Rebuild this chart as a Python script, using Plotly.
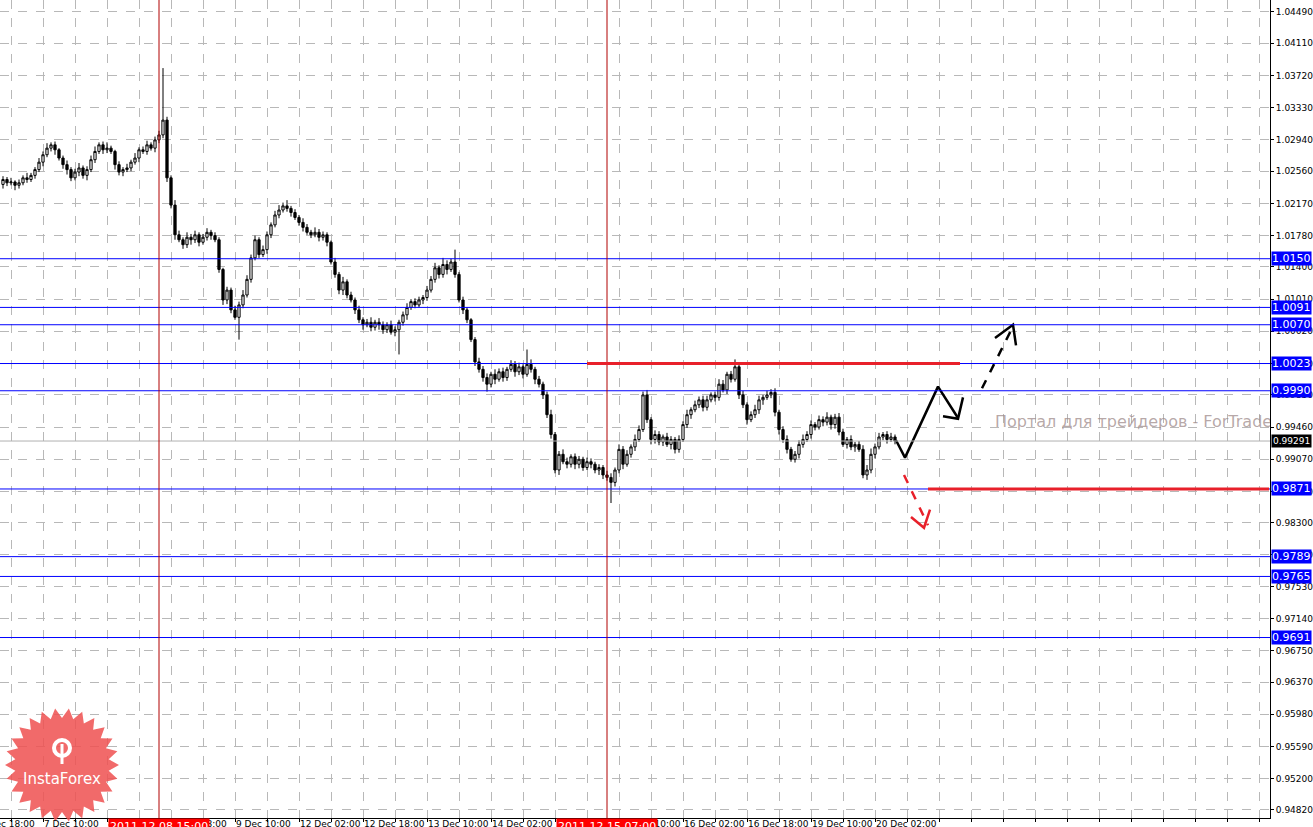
import math
import plotly.graph_objects as go

# ---------------- data ----------------
closes = [
 1.0246,1.0242,1.0243,1.0239,1.0242,1.0248,1.0246,1.0251,
 1.0258,1.0267,1.0276,1.0284,1.0288,1.0282,1.0272,1.0264,
 1.0258,1.0248,1.0255,1.0260,1.0251,1.0258,1.0270,1.0280,
 1.0288,1.0282,1.0284,1.0280,1.0264,1.0255,1.0258,1.0260,
 1.0267,1.0272,1.0282,1.0280,1.0288,1.0284,1.0294,1.0300,
 1.0318,1.0248,1.0215,1.0179,1.0173,1.0167,1.0176,1.0173,
 1.0179,1.0170,1.0176,1.0182,1.0178,1.0173,1.0137,1.0100,
 1.0112,1.0088,1.0079,1.0094,1.0106,1.0125,1.0151,1.0173,
 1.0155,1.0161,1.0179,1.0191,1.0203,1.0209,1.0214,1.0211,
 1.0206,1.0200,1.0194,1.0188,1.0182,1.0179,1.0182,1.0176,
 1.0179,1.0170,1.0146,1.0131,1.0112,1.0122,1.0106,1.0100,
 1.0088,1.0076,1.0070,1.0073,1.0067,1.0073,1.0070,1.0064,
 1.0070,1.0061,1.0064,1.0073,1.0082,1.0091,1.0098,1.0094,
 1.0100,1.0103,1.0112,1.0125,1.0139,1.0131,1.0143,1.0137,
 1.0146,1.0131,1.0100,1.0088,1.0076,1.0052,1.0025,1.0016,
 1.0006,0.9998,1.0010,1.0004,1.0013,1.0006,1.0016,1.0022,
 1.0013,1.0019,1.0010,1.0022,1.0016,1.0004,0.9998,0.9985,
 0.9961,0.9937,0.9894,0.9913,0.9904,0.9901,0.9910,0.9901,
 0.9907,0.9897,0.9904,0.9901,0.9894,0.9897,0.9888,0.9885,
 0.9879,0.9894,0.9919,0.9901,0.9913,0.9922,0.9931,0.9943,
 0.9985,0.9955,0.9931,0.9937,0.9928,0.9934,0.9925,0.9931,
 0.9919,0.9931,0.9949,0.9961,0.9967,0.9973,0.9979,0.9970,
 0.9979,0.9985,0.9982,0.9998,0.9991,1.0010,1.0004,1.0019,
 0.9985,0.9973,0.9955,0.9961,0.9967,0.9979,0.9982,0.9985,
 0.9988,0.9964,0.9943,0.9931,0.9919,0.9907,0.9913,0.9925,
 0.9931,0.9937,0.9949,0.9946,0.9955,0.9952,0.9958,0.9949,
 0.9958,0.9940,0.9925,0.9931,0.9922,0.9925,0.9919,0.9888,
 0.9894,0.9913,0.9922,0.9934,0.9937,0.9931,0.9934,0.99291,
]
first_open = 1.0240
wick_up = [
 4,3,5,2,4,3,6,3,  3,5,4,6,3,4,2,3,  5,3,4,6,3,4,5,6,  3,4,7,3,2,4,3,5,
 3,6,3,4,5,3,4,5,  63,4,3,6,5,3,6,4,  5,3,4,5,3,4,3,2,  4,3,5,4,6,5,4,5,
 3,5,4,3,5,6,4,7,  3,4,3,5,4,3,6,4,  4,3,2,5,3,6,3,4,  3,5,3,4,6,3,5,4,
 3,5,4,3,4,5,3,4,  4,3,5,4,6,3,8,5,  4,15,3,4,3,2,3,5,  4,5,3,6,4,5,3,5,
 4,5,3,18,6,3,4,3,  4,6,3,4,6,5,3,4,  4,3,5,4,3,4,3,5,  5,3,6,4,5,3,6,5,
 4,6,3,5,4,3,5,4,  3,5,4,6,3,5,4,5,  5,3,4,6,5,3,4,9,  4,5,3,4,6,5,3,5,
 4,5,3,4,5,3,4,5,  6,4,5,3,5,4,6,3,  4,5,4,3,5,3,4,5,  6,7,4,5,3,4,5,3,
]
wick_dn = [
 5,4,3,6,4,3,4,3,  4,3,5,3,4,6,3,5,  6,4,3,5,4,6,3,4,  3,5,4,3,6,4,5,3,
 4,3,5,3,4,3,5,4,  4,5,4,6,3,5,4,6,  4,5,3,4,5,3,4,6,  5,4,3,27,4,3,4,3,
 4,3,5,4,3,4,3,4,  5,3,4,5,3,4,3,5,  4,5,3,4,5,6,4,3,  5,4,6,3,5,4,6,5,
 4,3,5,30,4,6,3,4,  3,5,4,3,4,5,4,6,  3,4,3,5,4,3,5,4,  5,9,4,6,3,5,4,3,
 6,4,5,3,4,6,4,5,  4,5,4,6,3,5,4,6,  5,4,3,5,4,6,5,4,  25,5,4,6,3,4,5,3,
 3,4,6,5,4,5,3,6,  5,4,3,4,5,3,4,5,  4,3,5,4,3,5,4,3,  5,4,6,3,4,5,6,3,
 4,5,6,4,5,3,4,5,  4,3,5,4,3,5,4,6,  5,4,3,5,4,6,3,4,  6,4,5,3,4,5,3,4,
]

y_ticks = [1.0449,1.0411,1.0372,1.0333,1.0294,1.0256,1.0217,1.0178,1.0140,1.0101,
           1.0062,1.0023,0.9985,0.9946,0.9907,0.9868,0.9830,0.9791,0.9753,0.9714,
           0.9675,0.9637,0.9598,0.9559,0.9520,0.9482]
x_labels = ["6 Dec 18:00","7 Dec 10:00","8 Dec 02:00","8 Dec 18:00","9 Dec 10:00",
            "12 Dec 02:00","12 Dec 18:00","13 Dec 10:00","14 Dec 02:00","14 Dec 18:00",
            "15 Dec 10:00","16 Dec 02:00","16 Dec 18:00","19 Dec 10:00","20 Dec 02:00"]
x_label_start = -6   # bar index of first label
x_label_step = 16
levels = [1.0150, 1.0091, 1.0070, 1.0023, 0.9990, 0.9871, 0.9789, 0.9765, 0.9691]
current_price = 0.99291
marker_bars = [39, 151]
marker_texts = ["2011.12.08 15:00", "2011.12.15 07:00"]
red_levels = [(1.0023, 146, 239.25), (0.9871, 231.25, 316.5)]
arrow_solid = ([223.25, 225.5, 233.75, 238.75], [0.9930, 0.9909, 0.9995, 0.9957])
arrow_solid_head = ([235, 238.75, 240], [0.9959, 0.9956, 0.9982])
arrow_dash = ([244.75, 252.5], [0.9993, 1.0068])
arrow_dash_head = ([248, 252.5, 253.25], [1.0054, 1.0070, 1.0045])
arrow_red = ([225.25, 231.25], [0.9888, 0.9827])
arrow_red_head = ([227, 230.25, 231.75], [0.9837, 0.9824, 0.9846])

# ---------------- build ----------------
n = len(closes)
opens = [first_open] + closes[:-1]
highs = [max(o, c) + u * 0.0001 for o, c, u in zip(opens, closes, wick_up)]
lows = [min(o, c) - d * 0.0001 for o, c, d in zip(opens, closes, wick_dn)]
xs = list(range(n))

XMIN, XMAX = -0.75, 316.75
YMIN, YMAX = 0.94723, 1.04635

fig = go.Figure()
fig.add_trace(go.Candlestick(
    x=xs, open=opens, high=highs, low=lows, close=closes,
    increasing=dict(line=dict(color="black", width=1), fillcolor="white"),
    decreasing=dict(line=dict(color="black", width=1), fillcolor="black"),
    whiskerwidth=0, showlegend=False, hoverinfo="skip"))

def line(xv, yv, color, width, dash="solid"):
    fig.add_trace(go.Scatter(x=xv, y=yv, mode="lines", showlegend=False, hoverinfo="skip",
                             line=dict(color=color, width=width, dash=dash)))

shapes = []
for lv in levels:
    shapes.append(dict(type="line", xref="paper", x0=0, x1=1, yref="y", y0=lv, y1=lv,
                       line=dict(color="#0000ff", width=1)))
shapes.append(dict(type="line", xref="paper", x0=0, x1=1, yref="y", y0=current_price,
                   y1=current_price, line=dict(color="#b0b0b0", width=1)))
for b in marker_bars:
    shapes.append(dict(type="line", xref="x", x0=b, x1=b, yref="paper", y0=0, y1=1,
                       line=dict(color="#b00000", width=1)))
for lv, a, b in red_levels:
    shapes.append(dict(type="line", xref="x", x0=a, x1=b, yref="y", y0=lv, y1=lv,
                       line=dict(color="#e8202a", width=3)))

line(*arrow_solid, "black", 2.5)
line(*arrow_solid_head, "black", 2.5)
line(*arrow_dash, "black", 2.5, "dash")
line(*arrow_dash_head, "black", 2.5)
line(*arrow_red, "#e8202a", 2.5, "dash")
line(*arrow_red_head, "#e8202a", 2.5)

fig.add_trace(go.Scatter(x=[248], y=[0.9951], mode="text", text=["Портал для трейдеров - ForTrader"],
                         textposition="middle right", cliponaxis=True, showlegend=False,
                         hoverinfo="skip", textfont=dict(size=16, color="rgba(160,140,140,0.75)",
                                                          family="DejaVu Sans")))

# InstaForex starburst logo (pixel geometry -> paper)
PW, PH = 1270, 818
cx, cy, ro, ri, npt = 62, 765, 57, 47, 26
pts = []
for k in range(2 * npt):
    r = ro if k % 2 == 0 else ri
    a = math.pi * k / npt
    px, py = cx + r * math.cos(a), cy + r * math.sin(a)
    pts.append((px / PW, 1 - py / PH))
path = "M " + " L ".join(f"{x:.5f},{y:.5f}" for x, y in pts) + " Z"
shapes.append(dict(type="path", xref="paper", yref="paper", path=path,
                   fillcolor="rgba(238,80,80,0.85)", line=dict(width=0), layer="above"))
icy = 748
shapes.append(dict(type="circle", xref="paper", yref="paper",
                   x0=(cx - 8) / PW, x1=(cx + 8) / PW, y0=1 - (icy + 8) / PH, y1=1 - (icy - 8) / PH,
                   line=dict(color="white", width=4), layer="above"))
shapes.append(dict(type="line", xref="paper", yref="paper", x0=cx / PW, x1=cx / PW,
                   y0=1 - 764 / PH, y1=1 - 744 / PH, line=dict(color="white", width=3), layer="above"))

annotations = [dict(xref="paper", yref="paper", x=cx / PW, y=1 - 779 / PH, text="InstaForex",
                    xanchor="center", yanchor="middle",
                    showarrow=False, font=dict(color="white", size=15, family="DejaVu Sans"))]

def xp(i):
    return (i - XMIN) / (XMAX - XMIN)

for k, lab in enumerate(x_labels):
    i = x_label_start + k * x_label_step
    annotations.append(dict(xref="paper", yref="paper", x=xp(i) - 0.001, y=0, yanchor="top",
                            xanchor="left", text=lab, showarrow=False, yshift=1,
                            font=dict(size=9, color="black", family="DejaVu Sans")))
for b, t in zip(marker_bars, marker_texts):
    annotations.append(dict(xref="paper", yref="paper", x=xp(b), y=0, yanchor="top",
                            xanchor="center", text=t, showarrow=False, bgcolor="#ff0000",
                            font=dict(size=11, color="white", family="DejaVu Sans"), borderpad=1))
for lv in levels:
    annotations.append(dict(xref="paper", yref="y", x=1.001, y=lv, xanchor="left",
                            text=f"{lv:.4f}", showarrow=False, bgcolor="#0000ff",
                            font=dict(size=11, color="white", family="DejaVu Sans"), borderpad=0))
annotations.append(dict(xref="paper", yref="y", x=1.001, y=current_price, xanchor="left",
                        text=f"{current_price:.5f}", showarrow=False, bgcolor="black",
                        font=dict(size=9, color="white", family="DejaVu Sans"), borderpad=1))

grid_x = list(range(2, 317, 8))
fig.update_layout(
    width=1313, height=827, margin=dict(l=0, r=43, t=0, b=9, autoexpand=False),
    paper_bgcolor="white", plot_bgcolor="white", boxgap=0.2,
    shapes=shapes, annotations=annotations,
    xaxis=dict(range=[XMIN, XMAX], rangeslider=dict(visible=False), tickvals=grid_x,
               showticklabels=False, showgrid=True, gridcolor="#b8b8b8", griddash="dash",
               zeroline=False, showline=True, linecolor="black", ticks="outside",
               ticklen=3, tickcolor="black", automargin=False),
    yaxis=dict(range=[YMIN, YMAX], side="right", tickvals=y_ticks,
               ticktext=[f"{v:.5f}" for v in y_ticks], showgrid=True, gridcolor="#b8b8b8",
               griddash="dash", zeroline=False, showline=True, linecolor="black",
               ticks="outside", ticklen=3, tickcolor="black", automargin=False,
               tickfont=dict(size=9, color="black", family="DejaVu Sans")),
    font=dict(family="DejaVu Sans"),
)
fig.write_html("out.html", config={"displayModeBar": False},
               post_script="document.body.style.margin='0';document.body.style.overflow='hidden';")
